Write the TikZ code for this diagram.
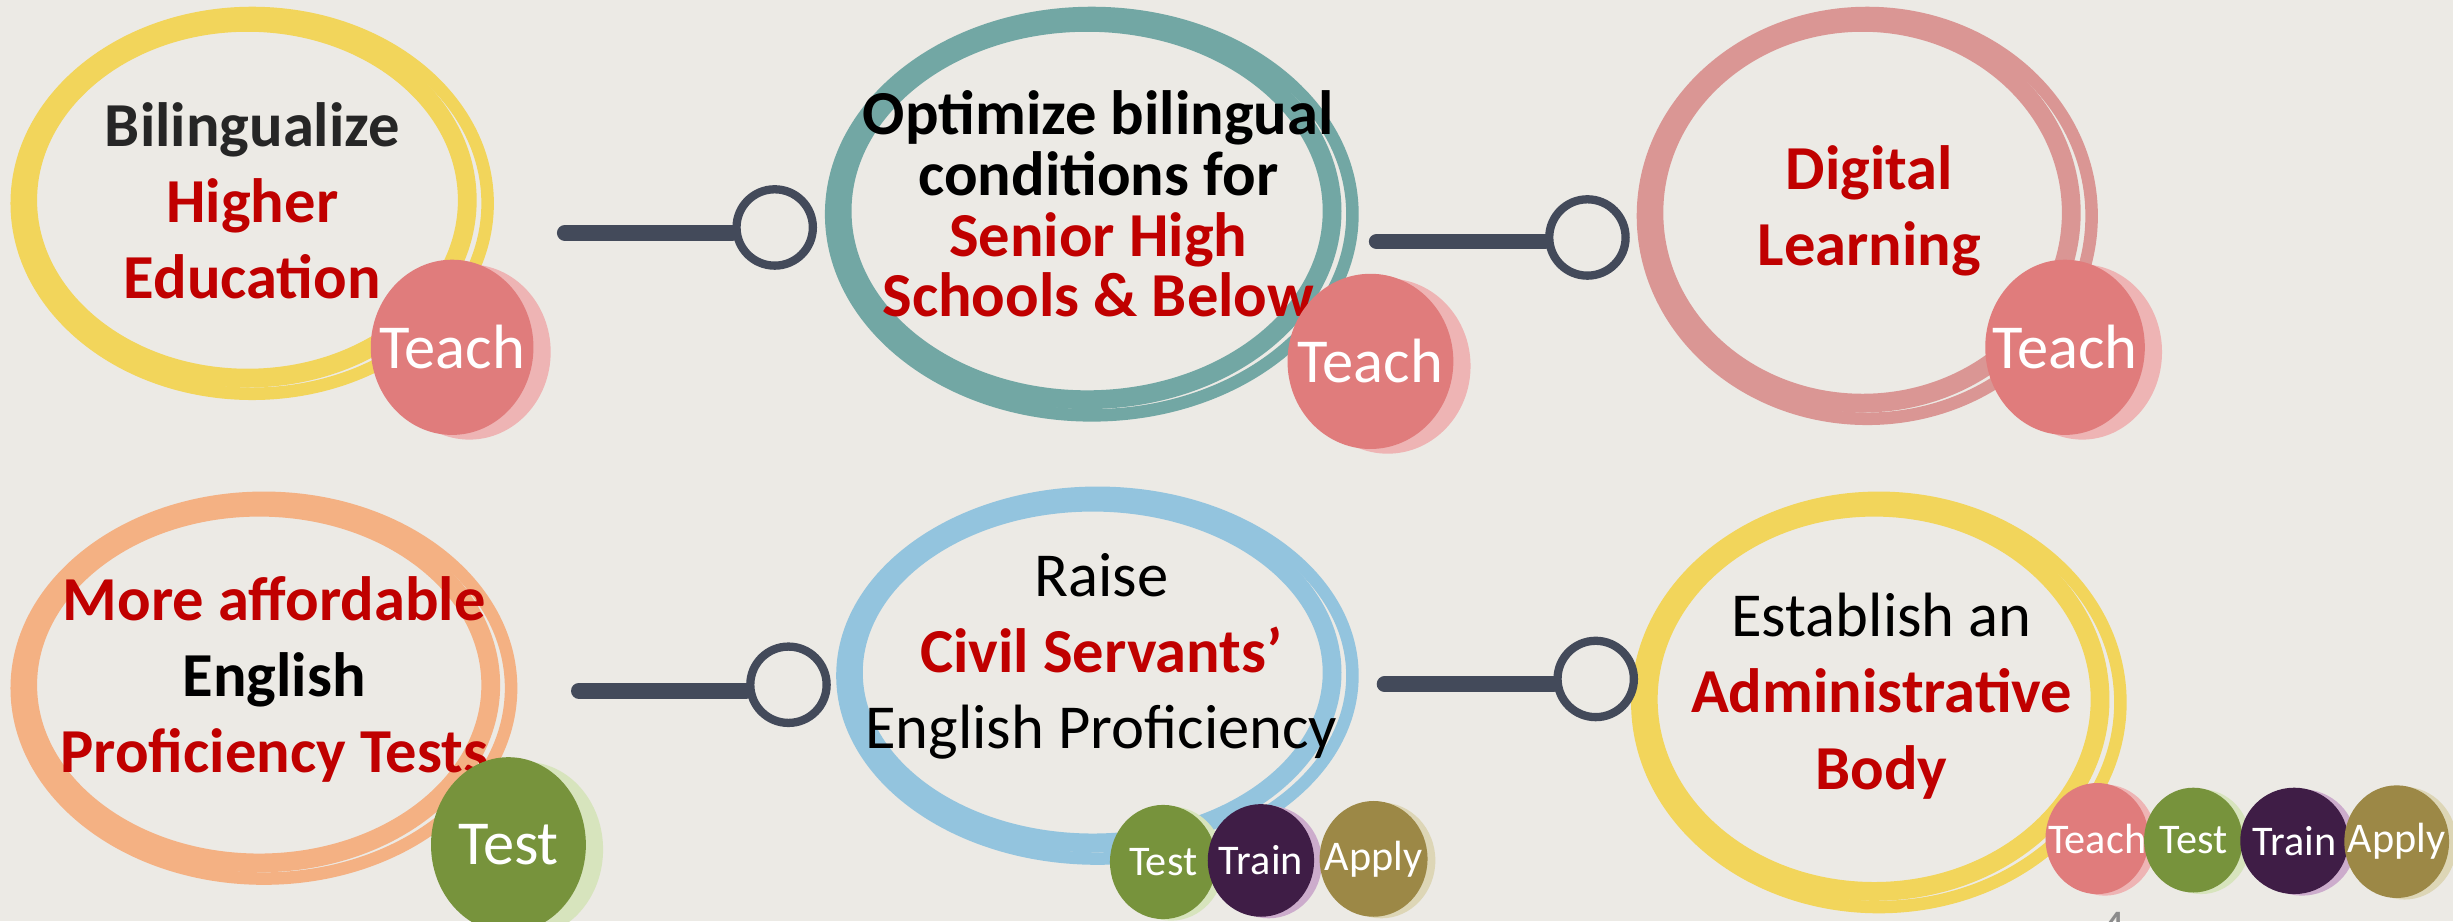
\documentclass[tikz,border=0pt]{standalone}
\usepackage{fontspec}
\setmainfont{Carlito}
\usetikzlibrary{shapes.geometric}

\definecolor{paper}{HTML}{ECEAE5}
\definecolor{ringyellow}{HTML}{F2D55B}
\definecolor{ringteal}{HTML}{72A7A4}
\definecolor{ringpink}{HTML}{DA9694}
\definecolor{ringpeach}{HTML}{F4B183}
\definecolor{ringblue}{HTML}{93C4DE}
\definecolor{slate}{HTML}{434A5A}
\definecolor{hired}{HTML}{C00000}
\definecolor{darktext}{HTML}{262626}
\definecolor{teach}{HTML}{E07C7C}
\definecolor{teachshade}{HTML}{EEB4B4}
\definecolor{test}{HTML}{77933C}
\definecolor{testshade}{HTML}{D7E4BD}
\definecolor{train}{HTML}{3F1D46}
\definecolor{trainshade}{HTML}{CCACCC}
\definecolor{apply}{HTML}{9C8846}
\definecolor{applyshade}{HTML}{DDD6B6}

\tikzset{
	ring/.style={ellipse, draw=#1, line width=6pt, inner sep=0pt},
	strand/.style={draw=#1, line width=4pt},
	goal/.style={align=center, inner sep=0pt, font=\bfseries\fontsize{20}{24.3}\selectfont},
	bar/.style={slate, line width=5pt, line cap=round},
	knob/.style={circle, draw=slate, line width=2.65pt, minimum size=24.4pt, inner sep=0pt},
	egg/.style={ellipse, inner sep=0pt, text=white, fill=#1,
		execute at begin node={\hbox to 0pt\bgroup\hss},
		execute at end node={\hss\egroup}},
	bigegg/.style={egg=#1, font=\fontsize{20}{20}\selectfont,
		preaction={fill=#1shade, transform canvas={xshift=5.5pt, yshift=-1.5pt}}},
	smallegg/.style={egg=#1, font=\fontsize{13.5}{13.5}\selectfont,
		preaction={fill=#1shade, transform canvas={xshift=2.5pt, yshift=-0.5pt}}},
}

\begin{document}
\begin{tikzpicture}[x=0.5pt, y=-0.5pt]
	%paper
	\fill[paper] (0,0) rectangle (1568,589);
	\useasboundingbox (0,0) rectangle (1568,589);

	%brush rings
	\foreach \n/\col/\cx/\cy/\rx/\ry in {A/ringyellow/161.2/130/154.5/125.7, B/ringteal/697.9/136.9/170.6/132.6, C/ringpink/1193.6/138/147.4/133.7, D/ringpeach/168.7/439.9/162/125.7, E/ringblue/701.5/431.9/167/120.9, F/ringyellow/1201/449/158.4/134.8}{
		\node (ring\n) at (\cx-3, \cy-2) [ring=\col, minimum width=(\rx-14)*1pt, minimum height=(\ry-12)*1pt]{};
		\draw[strand=\col] (\cx, \cy) ellipse [x radius=\rx-4, y radius=\ry-4];
	}

	%goals
	\node (goalA) at (161.3, 128.5) [goal]{\textcolor{darktext}{Bilingualize}\\ \textcolor{hired}{Higher}\\ \textcolor{hired}{Education}};
	\node (goalB) at (702, 130.5) [goal, font=\bfseries\fontsize{20}{19.4}\selectfont]{Optimize bilingual\\ conditions for\\ \textcolor{hired}{Senior High}\\ \textcolor{hired}{Schools \& Below}};
	\node (goalC) at (1195, 135) [goal]{\textcolor{hired}{Digital}\\ \textcolor{hired}{Learning}};
	\node (goalD) at (175.3, 434.4) [goal]{\textcolor{hired}{More affordable}\\ English\\ \textcolor{hired}{Proficiency Tests}};
	\node (goalE) at (704, 419.3) [goal]{\textmd{Raise}\\ \textcolor{hired}{Civil Servants'}\\ \textmd{English Proficiency}};
	\node (goalF) at (1202.7, 445) [goal]{\textmd{Establish an}\\ \textcolor{hired}{Administrative}\\ \textcolor{hired}{Body}};

	%connectors
	\node (knobAB) at (495.2, 145.4) [knob]{};
	\node (knobBC) at (1014.7, 151.8) [knob]{};
	\node (knobDE) at (504, 437.7) [knob]{};
	\node (knobEF) at (1020, 434) [knob]{};
	\coordinate (barAB) at (361, 148.8);
	\coordinate (barBC) at (880, 154.4);
	\coordinate (barDE) at (370, 441.5);
	\coordinate (barEF) at (885, 437.3);
	\draw[bar] (barAB) -- (barAB -| knobAB.west);
	\draw[bar] (barBC) -- (barBC -| knobBC.west);
	\draw[bar] (barDE) -- (barDE -| knobDE.west);
	\draw[bar] (barEF) -- (barEF -| knobEF.west);

	%eggs
	\node (eggA) at (289, 222) [bigegg=teach, minimum width=52pt, minimum height=56pt]{Teach};
	\node (eggB) at (876, 231) [bigegg=teach, minimum width=53pt, minimum height=56pt]{Teach};
	\node (eggC) at (1320, 222) [bigegg=teach, minimum width=51pt, minimum height=56pt]{Teach};
	\node (eggD) at (325, 540) [bigegg=test, minimum width=49.5pt, minimum height=56pt]{Test};

	\node (eggE1) at (743.5, 551) [smallegg=test, minimum width=34pt, minimum height=36.5pt]{Test};
	\node (eggE2) at (806, 550) [smallegg=train, minimum width=34pt, minimum height=36pt]{Train};
	\node (eggE3) at (878, 549) [smallegg=apply, minimum width=34.5pt, minimum height=37pt]{Apply};

	\node (eggF1) at (1340.5, 536) [smallegg=teach, minimum width=33pt, minimum height=35.5pt]{Teach};
	\node (eggF2) at (1402, 537) [smallegg=test, minimum width=31.5pt, minimum height=33.5pt]{Test};
	\node (eggF3) at (1466.5, 537.5) [smallegg=train, minimum width=34.5pt, minimum height=34pt]{Train};
	\node (eggF4) at (1532, 538) [smallegg=apply, minimum width=33.5pt, minimum height=36pt]{Apply};

	%page number
	\node (pagenum) at (1351, 583) [anchor=north, inner sep=0pt, text=black!45, font=\fontsize{16}{16}\selectfont]{4};
\end{tikzpicture}
\end{document}
